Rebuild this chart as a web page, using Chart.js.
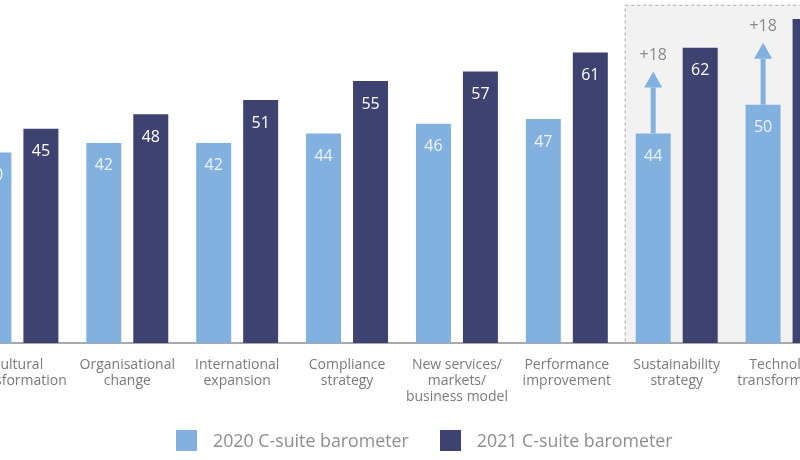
<!DOCTYPE html>
<html>
<head>
<meta charset="utf-8">
<script src="https://cdn.jsdelivr.net/npm/chart.js@4"></script>
<style>
  html, body { margin: 0; padding: 0; background: #ffffff; overflow: hidden; width: 800px; height: 460px; }
  #wrap { position: absolute; left: -38px; top: 0; width: 880px; height: 460px; }
  #legend { position: absolute; left: 176px; top: 428px; display: flex; align-items: center;
            font-family: "Open Sans", sans-serif; font-size: 17.8px; color: #8e8e8e; }
  .item { display: flex; align-items: center; margin-right: 31px; }
  .sw { width: 21px; height: 21px; margin-right: 16px; }
</style>
</head>
<body>
<div id="wrap"><canvas id="c" width="880" height="460"></canvas></div>
<div id="legend"></div>
<script>
const categories = [
  ["Cultural", "transformation"],
  ["Organisational", "change"],
  ["International", "expansion"],
  ["Compliance", "strategy"],
  ["New services/", "markets/", "business model"],
  ["Performance", "improvement"],
  ["Sustainability", "strategy"],
  ["Technology", "transformation"]
];
const seriesNames = ["2020 C-suite barometer", "2021 C-suite barometer"];
const values2020 = [40, 42, 42, 44, 46, 47, 44, 50];
const values2021 = [45, 48, 51, 55, 57, 61, 62, 68];
const highlighted = [6, 7];

const colors = ["#82b1df", "#3e4271"];
const labelColors = ["#eef4fb", "#ffffff"];
const FONT = '"Open Sans", sans-serif';

const highlightBox = {
  id: "highlightBox",
  beforeDatasetsDraw(chart) {
    const { ctx, scales: { x, y }, chartArea } = chart;
    const left = x.getPixelForValue(highlighted[0]) - 52;
    const top = y.getPixelForValue(71);
    const bottom = chartArea.bottom - 1;
    const right = chartArea.right + 40;
    ctx.save();
    ctx.fillStyle = "#f2f2f2";
    ctx.fillRect(left, top, right - left, bottom - top);
    ctx.setLineDash([3, 3]);
    ctx.strokeStyle = "#a8a8a8";
    ctx.lineWidth = 1;
    ctx.strokeRect(left + 0.5, top + 0.5, right - left, bottom - top);
    ctx.restore();
  }
};

const valueLabels = {
  id: "valueLabels",
  afterDatasetsDraw(chart) {
    const { ctx } = chart;
    ctx.save();
    ctx.font = "16px " + FONT;
    ctx.textAlign = "center";
    ctx.textBaseline = "middle";
    chart.data.datasets.forEach((ds, di) => {
      const meta = chart.getDatasetMeta(di);
      meta.data.forEach((el, i) => {
        ctx.fillStyle = labelColors[di];
        ctx.fillText(String(ds.data[i]), el.x, el.y + 23);
      });
    });
    // arrows with change annotation
    const meta0 = chart.getDatasetMeta(0);
    highlighted.forEach(i => {
      const el = meta0.data[i];
      const x = el.x, top = el.y;
      const tip = top - 62, headBase = tip + 16;
      ctx.fillStyle = colors[0];
      ctx.fillRect(x - 2.5, headBase, 5, top - headBase);
      ctx.beginPath();
      ctx.moveTo(x, tip);
      ctx.lineTo(x - 9, headBase);
      ctx.lineTo(x + 9, headBase);
      ctx.closePath();
      ctx.fill();
      const diff = values2021[i] - values2020[i];
      ctx.fillStyle = "#8a8a8a";
      ctx.fillText("+" + diff, x, tip - 16);
    });
    ctx.restore();
  }
};

const chart = new Chart(document.getElementById("c"), {
  type: "bar",
  data: {
    labels: categories,
    datasets: [
      { label: seriesNames[0], data: values2020, backgroundColor: colors[0] },
      { label: seriesNames[1], data: values2021, backgroundColor: colors[1] }
    ]
  },
  options: {
    responsive: false,
    animation: false,
    devicePixelRatio: 1,
    layout: { padding: 0 },
    datasets: { bar: { barPercentage: 0.745, categoryPercentage: 0.855 } },
    plugins: { legend: { display: false }, tooltip: { enabled: false } },
    scales: {
      x: {
        grid: { display: false },
        border: { display: true, color: "#a9a9a9", width: 2 },
        ticks: { color: "#7a7a7a", font: { family: FONT, size: 14, lineHeight: 1.14 }, padding: 6, maxRotation: 0, autoSkip: false },
        afterFit(s) { s.height = 117; }
      },
      y: { display: false, min: 0, max: 72 }
    }
  },
  plugins: [highlightBox, valueLabels]
});

const legend = document.getElementById("legend");
chart.data.datasets.forEach((ds, i) => {
  const item = document.createElement("div");
  item.className = "item";
  const sw = document.createElement("div");
  sw.className = "sw";
  sw.style.background = ds.backgroundColor;
  const t = document.createElement("span");
  t.textContent = ds.label;
  item.appendChild(sw);
  item.appendChild(t);
  legend.appendChild(item);
});
</script>
</body>
</html>
